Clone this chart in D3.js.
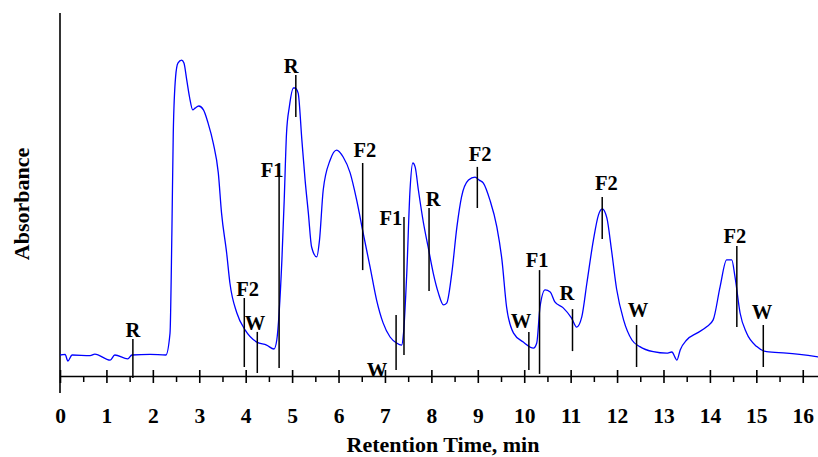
<!DOCTYPE html>
<html>
<head>
<meta charset="utf-8">
<script src="https://cdn.jsdelivr.net/npm/d3@7"></script>
<style>
  body { margin: 0; background: #fff; }
  svg text { font-family: "Liberation Serif", "Times New Roman", serif; font-weight: bold; }
</style>
</head>
<body>
<svg id="chart" width="818" height="457"></svg>
<script>
// chromatogram trace: retention time (min) and absorbance (arb.)
times = [0, 0.11, 0.17, 0.26, 0.65, 0.75, 1.08, 1.18, 1.46, 1.55, 1.94, 2.28, 2.37, 2.41, 2.44, 2.49, 2.54, 2.62, 2.67, 2.73,
  2.79, 2.86, 2.91, 2.99, 3.09, 3.19, 3.30, 3.41, 3.48, 3.59, 3.66, 3.81, 3.99, 4.24, 4.45, 4.61, 4.67, 4.72, 4.78, 4.83,
  4.88, 4.94, 5.03, 5.06, 5.13, 5.21, 5.28, 5.35, 5.42, 5.53, 5.59, 5.67, 5.82, 5.96, 6.10, 6.25, 6.39, 6.53, 6.68, 6.82,
  6.96, 7.11, 7.25, 7.36, 7.40, 7.47, 7.54, 7.60, 7.65, 7.72, 7.83, 7.93, 8.04, 8.15, 8.26, 8.33, 8.44, 8.55, 8.65, 8.80,
  8.94, 9.03, 9.12, 9.26, 9.41, 9.52, 9.62, 9.77, 9.98, 10.20, 10.27, 10.34, 10.45, 10.56, 10.66, 10.84, 11.02, 11.13, 11.24, 11.35,
  11.49, 11.60, 11.68, 11.78, 11.88, 11.99, 12.14, 12.32, 12.49, 12.78, 13.07, 13.18, 13.29, 13.36, 13.50, 13.72, 13.93, 14.07, 14.22, 14.36,
  14.47, 14.54, 14.65, 14.79, 15.01, 15.22, 15.65, 16.33]
absorb = [0, 0.002, -0.02, 0, -0.002, 0.003, -0.017, 0, -0.013, 0, 0.002, 0, 0.073, 0.407, 0.74, 0.927, 0.973, 0.983, 0.973, 0.917,
  0.86, 0.817, 0.823, 0.83, 0.817, 0.773, 0.707, 0.607, 0.473, 0.34, 0.24, 0.14, 0.083, 0.043, 0.033, 0.02, 0.05, 0.14, 0.317, 0.517,
  0.74, 0.827, 0.89, 0.89, 0.873, 0.717, 0.583, 0.473, 0.36, 0.327, 0.383, 0.55, 0.65, 0.683, 0.66, 0.607, 0.517, 0.407, 0.293, 0.183,
  0.107, 0.06, 0.04, 0.033, 0.073, 0.273, 0.55, 0.64, 0.627, 0.55, 0.44, 0.36, 0.273, 0.207, 0.167, 0.173, 0.273, 0.427, 0.527, 0.583,
  0.593, 0.583, 0.573, 0.517, 0.427, 0.317, 0.16, 0.073, 0.043, 0.023, 0.04, 0.16, 0.217, 0.21, 0.177, 0.157, 0.123, 0.093, 0.127, 0.24,
  0.383, 0.467, 0.487, 0.457, 0.35, 0.22, 0.117, 0.05, 0.028, 0.011, 0.006, 0.01, -0.017, 0.017, 0.05, 0.073, 0.094, 0.117, 0.228, 0.317,
  0.317, 0.261, 0.14, 0.073, 0.028, 0.011, 0.006, -0.006]

// fraction markers: label, time of the line, line top / bottom, label anchor (time, absorbance)
markLabels = ["R", "F2", "W", "F1", "R", "F2", "W", "F1", "R", "F2", "W", "F1", "R", "F2", "W", "F2", "W"]
markTimes  = [1.57, 3.97, 4.25, 4.72, 5.08, 6.52, 7.24, 7.41, 7.95, 8.99, 10.10, 10.33, 11.04, 11.68, 12.42, 14.58, 15.15]
markTop    = [0.053, 0.19, 0.077, 0.617, 0.933, 0.64, 0.133, 0.46, 0.49, 0.627, 0.077, 0.283, 0.153, 0.527, 0.1, 0.363, 0.1]
markBottom = [-0.077, -0.04, -0.06, -0.043, 0.793, 0.283, -0.05, 0, 0.213, 0.49, -0.05, -0.063, 0.013, 0.387, -0.04, 0.093, -0.04]
labelTimes = [1.57, 4.04, 4.20, 4.57, 4.98, 6.57, 6.83, 7.13, 8.04, 9.05, 9.93, 10.28, 10.92, 11.77, 12.45, 14.54, 15.12]
labelAbs   = [0.06, 0.197, 0.083, 0.593, 0.94, 0.66, -0.073, 0.433, 0.497, 0.647, 0.09, 0.293, 0.183, 0.55, 0.127, 0.373, 0.12]

xTicks = d3.range(0, 17)
xMinor = d3.range(0.5, 16.5, 1)

svg = d3.select("#chart")
x = d3.scaleLinear().domain([0, 16.35]).range([60, 819])
y = d3.scaleLinear().domain([-0.07, 1.14]).range([376, 13])

trace = times.map(function(t, i){ return {t: t, a: absorb[i]} })

// y axis: plain line, no ticks
svg.append("line")
  .attr("x1", x(0)).attr("x2", x(0))
  .attr("y1", y(-0.127)).attr("y2", y(1.14))
  .attr("stroke", "black").attr("stroke-width", 1.6)

// minor ticks (below the axis only)
gMinor = svg.append("g").attr("transform", "translate(0," + y(-0.07) + ")")
  .call(d3.axisBottom(x).tickValues(xMinor).tickSize(6).tickFormat("").tickSizeOuter(0))
gMinor.select(".domain").remove()
gMinor.selectAll(".tick line").attr("stroke-width", 1.5)

gx = svg.append("g").attr("transform", "translate(0," + y(-0.07) + ")")
  .call(d3.axisBottom(x).tickValues(xTicks).tickSizeOuter(0).tickFormat(d3.format("d")))
gx.select(".domain").attr("stroke-width", 1.6)
gx.selectAll(".tick line").attr("y1", -6).attr("y2", 7).attr("stroke-width", 1.6)
gx.selectAll(".tick text").attr("dy", null).attr("y", 47)
  .attr("font-size", 21.5).attr("fill", "black")
  .style("font-family", "Liberation Serif").style("font-weight", "bold")

// the trace
svg.append("path").datum(trace)
  .attr("fill", "none").attr("stroke", "#0000ff").attr("stroke-width", 1.3)
  .attr("d", d3.line().curve(d3.curveMonotoneX)
    .x(function(d){ return x(d.t) }).y(function(d){ return y(d.a) }))

// marker lines and labels
gm = svg.append("g").attr("id", "markers")
gm.selectAll("line").data(markTimes).join("line")
  .attr("x1", function(d){ return x(d) }).attr("x2", function(d){ return x(d) })
  .attr("y1", function(d, i){ return y(markTop[i]) })
  .attr("y2", function(d, i){ return y(markBottom[i]) })
  .attr("stroke", "black").attr("stroke-width", 1.5)
gm.selectAll("text").data(markLabels).join("text")
  .attr("x", function(d, i){ return x(labelTimes[i]) })
  .attr("y", function(d, i){ return y(labelAbs[i]) })
  .attr("text-anchor", "middle").attr("font-size", 20.5)
  .text(function(d){ return d })

svg.append("text")
  .attr("x", 443).attr("y", 452).attr("text-anchor", "middle").attr("font-size", 22)
  .text("Retention Time, min")
svg.append("text")
  .attr("transform", "translate(29,204) rotate(-90)")
  .attr("text-anchor", "middle").attr("font-size", 22)
  .text("Absorbance")
</script>
</body>
</html>
